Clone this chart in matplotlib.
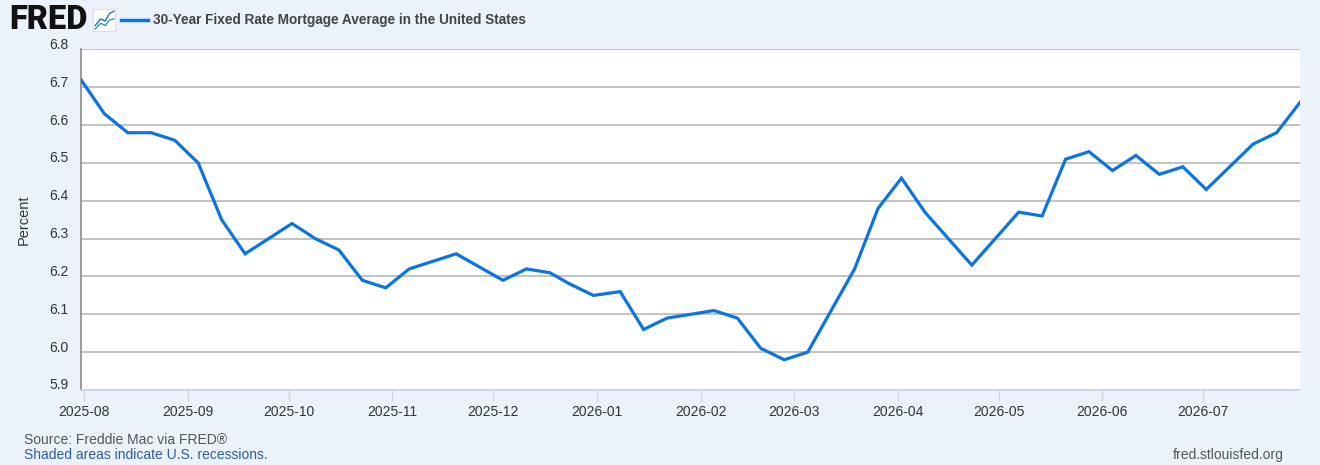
import matplotlib
matplotlib.use("Agg")
import matplotlib.pyplot as plt
import matplotlib.dates as mdates
import matplotlib.transforms as mtransforms
import pandas as pd

# weekly PMMS readings (Thursdays, holiday weeks on Wednesday)
dates = pd.to_datetime([
    "2025-07-31", "2025-08-07", "2025-08-14", "2025-08-21", "2025-08-28",
    "2025-09-04", "2025-09-11", "2025-09-18", "2025-09-25", "2025-10-02",
    "2025-10-09", "2025-10-16", "2025-10-23", "2025-10-30", "2025-11-06",
    "2025-11-13", "2025-11-20", "2025-11-26", "2025-12-04", "2025-12-11",
    "2025-12-18", "2025-12-24", "2025-12-31", "2026-01-08", "2026-01-15",
    "2026-01-22", "2026-01-29", "2026-02-05", "2026-02-12", "2026-02-19",
    "2026-02-26", "2026-03-05", "2026-03-12", "2026-03-19", "2026-03-26",
    "2026-04-02", "2026-04-09", "2026-04-16", "2026-04-23", "2026-04-30",
    "2026-05-07", "2026-05-14", "2026-05-21", "2026-05-28", "2026-06-04",
    "2026-06-11", "2026-06-18", "2026-06-25", "2026-07-02", "2026-07-09",
    "2026-07-16", "2026-07-23", "2026-07-30",
])
rates = [
    6.72, 6.63, 6.58, 6.58, 6.56,
    6.50, 6.35, 6.26, 6.30, 6.34,
    6.30, 6.27, 6.19, 6.17, 6.22,
    6.24, 6.26, 6.23, 6.19, 6.22,
    6.21, 6.18, 6.15, 6.16, 6.06,
    6.09, 6.10, 6.11, 6.09, 6.01,
    5.98, 6.00, 6.11, 6.22, 6.38,
    6.46, 6.37, 6.30, 6.23, 6.30,
    6.37, 6.36, 6.51, 6.53, 6.48,
    6.52, 6.47, 6.49, 6.43, 6.49,
    6.55, 6.58, 6.66,
]
y_ticks = [5.9, 6.0, 6.1, 6.2, 6.3, 6.4, 6.5, 6.6, 6.7, 6.8]
series_name = "30-Year Fixed Rate Mortgage Average in the United States"

bg = "#ebf2fa"
line_col = "#0b74e0"
text_col = "#333333"

plt.rcParams["font.family"] = ["Liberation Sans", "DejaVu Sans"]

fig = plt.figure(figsize=(13.2, 4.65), dpi=100)
fig.set_facecolor(bg)
ax = fig.add_axes([81 / 1320, 1 - 390 / 465, (1300 - 81) / 1320, (390 - 49.5) / 465])
ax.set_facecolor("white")

ax.plot(dates, rates, color=line_col, linewidth=2.3, solid_joinstyle="miter",
        clip_on=True, zorder=3)

ax.set_xlim(pd.Timestamp("2025-07-31"), pd.Timestamp("2026-07-30"))
ax.set_ylim(5.9, 6.8)
ax.set_yticks(y_ticks, [f"{v:.1f}" for v in y_ticks])
ax.grid(axis="y", color="#c2c2c2", linewidth=1.4, zorder=1)

ax.xaxis.set_major_locator(mdates.MonthLocator())
ax.xaxis.set_major_formatter(mdates.DateFormatter("%Y-%m"))

ax.tick_params(axis="x", length=8, width=1, color="#ccd6eb", pad=3,
               labelsize=10, labelcolor=text_col)
ax.tick_params(axis="y", length=0, pad=9, labelsize=10, labelcolor=text_col)

# y labels sit a bit above their gridlines
shift = mtransforms.ScaledTranslation(0, 6 / 100, fig.dpi_scale_trans)
for lbl in ax.get_yticklabels():
    lbl.set_transform(lbl.get_transform() + shift)

for s in ["top", "right"]:
    ax.spines[s].set_visible(False)
ax.spines["left"].set_color("#8a8a8a")
ax.spines["left"].set_linewidth(1.2)
ax.spines["bottom"].set_color("#ccd6eb")
ax.spines["bottom"].set_linewidth(1.2)

ax.set_ylabel("Percent", fontsize=10.5, color=text_col)
ax.yaxis.set_label_coords(-50 / 1219, 0.5)

# header: logo + legend
fig.text(9 / 1320, 1 - 20 / 465, "FRED", fontsize=23.5, fontweight="heavy",
         family=["Roboto", "DejaVu Sans"], color="#111111", va="center", ha="left")
icon = fig.add_axes([93 / 1320, 1 - 31 / 465, 22 / 1320, 22 / 465])
icon.set_facecolor("white")
icon.plot([0.1, 0.35, 0.55, 0.75, 0.95], [0.25, 0.55, 0.45, 0.8, 0.9],
          color="#1f6fd0", linewidth=1)
icon.plot([0.1, 0.35, 0.55, 0.75, 0.95], [0.1, 0.35, 0.25, 0.5, 0.55],
          color="#2aa18a", linewidth=1)
icon.set_xlim(0, 1)
icon.set_ylim(0, 1)
icon.set_xticks([])
icon.set_yticks([])
for s in icon.spines.values():
    s.set_color("#d0d8e0")
    s.set_linewidth(0.6)

fig.add_artist(plt.Line2D([121 / 1320, 148 / 1320], [1 - 20 / 465, 1 - 20 / 465],
                          color=line_col, linewidth=2.5))
fig.text(153 / 1320, 1 - 20 / 465, series_name, fontsize=9.8, fontweight="bold",
         color="#444444", va="center", ha="left")

# footer
fig.text(24 / 1320, 1 - 440 / 465, "Source: Freddie Mac via FRED\u00ae",
         fontsize=10, color="#555555", va="center", ha="left")
fig.text(24 / 1320, 1 - 455 / 465, "Shaded areas indicate U.S. recessions.",
         fontsize=10, color="#2d5c9e", va="center", ha="left")
fig.text(1284 / 1320, 1 - 455 / 465, "fred.stlouisfed.org",
         fontsize=10, color="#555555", va="center", ha="right")

fig.savefig("out.png", dpi=100, facecolor=bg)
